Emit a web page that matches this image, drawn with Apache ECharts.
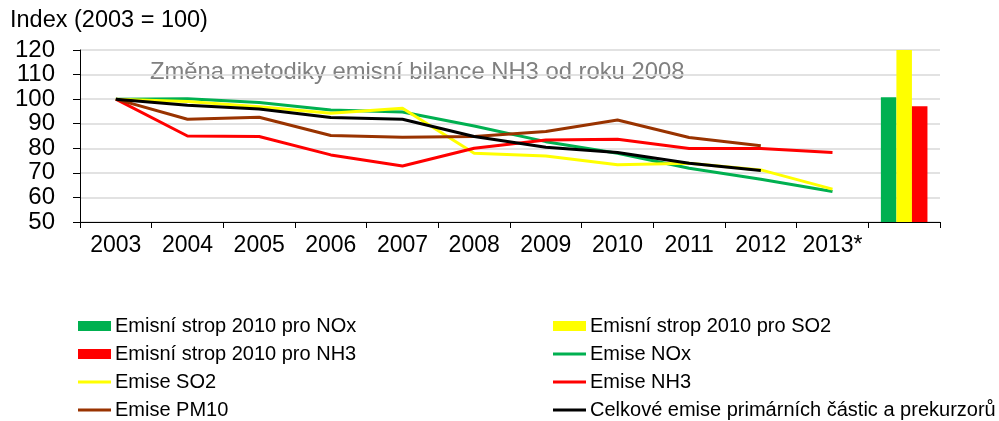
<!DOCTYPE html>
<html>
<head>
<meta charset="utf-8">
<script src="https://cdn.jsdelivr.net/npm/echarts@6/dist/echarts.min.js"></script>
<style>
  html, body { margin: 0; padding: 0; background: #fff; }
  #chart { width: 999px; height: 421px; }
</style>
</head>
<body>
<div id="chart"></div>
<script>
// osa x - roky, posledni kategorie je pro emisni stropy
var years = ["2003", "2004", "2005", "2006", "2007", "2008", "2009", "2010", "2011", "2012", "2013*", ""];

var emiseNOx = [100, 100.2, 98.6, 95.6, 94.8, 89.1, 82.7, 78.0, 71.9, 67.4, 62.4, null];
var emiseSO2 = [100, 99.0, 96.9, 94.3, 96.3, 78.0, 76.9, 73.3, 73.9, 71.2, 63.4, null];
var emiseNH3 = [100, 85.0, 84.8, 77.3, 72.8, 80.0, 83.4, 83.7, 79.9, 79.9, 78.3, null];
var emisePM10 = [100, 91.8, 92.6, 85.2, 84.5, 84.8, 86.8, 91.5, 84.4, 81.0, null, null];
var emiseCelkem = [100, 97.5, 96.0, 92.5, 91.8, 84.8, 80.4, 78.3, 73.9, 71.0, null, null];

// emisni stropy 2010 (jen v posledni kategorii)
var stropNOx = [null, null, null, null, null, null, null, null, null, null, null, 100.8];
var stropSO2 = [null, null, null, null, null, null, null, null, null, null, null, 160];
var stropNH3 = [null, null, null, null, null, null, null, null, null, null, null, 97.1];

var yTicks = { min: 50, max: 120, interval: 10 };

var font = "'Liberation Sans', Arial, sans-serif";

var chart = echarts.init(document.getElementById("chart"));

function lineSeries(name, data, color) {
	return {
		name: name,
		type: "line",
		data: data,
		symbol: "none",
		smooth: false,
		lineStyle: { color: color, width: 3 },
		itemStyle: { color: color },
		z: 3
	};
}

function barSeries(name, data, color) {
	return {
		name: name,
		type: "bar",
		data: data,
		barGap: "0%",
		barCategoryGap: "35%",
		itemStyle: { color: color },
		z: 2
	};
}

// legenda ve dvou sloupcich: obdelniky pro stropy, cary pro emise
function legend(left, top, h, items) {
	return {
		left: left,
		top: top,
		orient: "vertical",
		padding: 0,
		icon: "rect",
		itemWidth: 33,
		itemHeight: h,
		itemGap: 6,
		height: 200,
		textStyle: { fontSize: 20, color: "#000", lineHeight: 22, fontFamily: font, padding: [0, 0, 0, -1] },
		data: items
	};
}

chart.setOption({
	animation: false,
	textStyle: { fontFamily: font },
	grid: { left: 80, right: 59, top: 50, bottom: 199 },
	graphic: [
		{
			type: "text",
			left: 10,
			top: 9,
			style: { text: "Index (2003 = 100)", fontSize: 23.5, fontFamily: font, fill: "#000" }
		},
		{
			type: "text",
			left: 150,
			top: 60,
			style: { text: "Změna metodiky emisní bilance NH3 od roku 2008", fontSize: 23.8, fontFamily: font, fill: "#808080" }
		}
	],
	legend: [
		legend(78, 315, 10, ["Emisní strop 2010 pro NOx", "Emisní strop 2010 pro NH3"]),
		legend(78, 371, 3, ["Emise SO2", "Emise PM10"]),
		legend(553, 315, 10, ["Emisní strop 2010 pro SO2"]),
		legend(553, 343, 3, ["Emise NOx", "Emise NH3", "Celkové emise primárních částic a prekurzorů"])
	],
	xAxis: {
		type: "category",
		data: years,
		boundaryGap: true,
		axisLine: { lineStyle: { color: "#000", width: 1 } },
		axisTick: { show: true, length: 6, lineStyle: { color: "#000" } },
		axisLabel: { fontSize: 23, color: "#000", margin: 12, interval: 0 }
	},
	yAxis: {
		type: "value",
		min: yTicks.min,
		max: yTicks.max,
		interval: yTicks.interval,
		axisLine: { show: true, lineStyle: { color: "#000", width: 1 } },
		axisTick: { show: true, length: 7, lineStyle: { color: "#000" } },
		axisLabel: { fontSize: 24, color: "#000", margin: 25 },
		splitLine: { lineStyle: { color: "#d9d9d9", width: 1.5 } }
	},
	series: [
		barSeries("Emisní strop 2010 pro NOx", stropNOx, "#00B050"),
		barSeries("Emisní strop 2010 pro SO2", stropSO2, "#FFFF00"),
		barSeries("Emisní strop 2010 pro NH3", stropNH3, "#FF0000"),
		lineSeries("Emise NOx", emiseNOx, "#00B050"),
		lineSeries("Emise SO2", emiseSO2, "#FFFF00"),
		lineSeries("Emise NH3", emiseNH3, "#FF0000"),
		lineSeries("Emise PM10", emisePM10, "#993300"),
		lineSeries("Celkové emise primárních částic a prekurzorů", emiseCelkem, "#000000")
	]
});
</script>
</body>
</html>
